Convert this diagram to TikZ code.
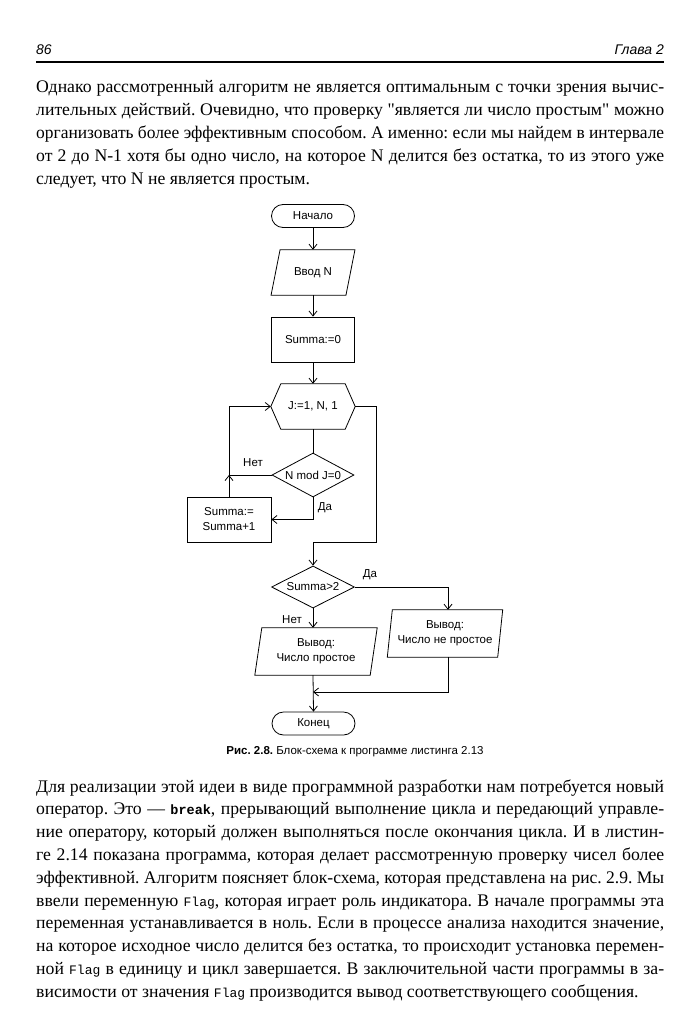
\documentclass[tikz,border=0pt]{standalone}
\usepackage{fontspec}
\setmainfont{Liberation Serif}[Ligatures=TeXOff]
\setsansfont{Liberation Sans}
\setmonofont{Liberation Mono}
\usepackage{graphicx}
\usetikzlibrary{arrows.meta,shapes.geometric,calc}
\frenchspacing

\newcommand\jline[1]{\setbox0\hbox{#1}\ifdim\wd0>628pt\resizebox{628pt}{\height}{\copy0}\else\makebox[628pt][s]{#1}\fi}
\newcommand\drawpara[2]{\draw[shp] ([xshift=#2]#1.north west) -- ([xshift=#2]#1.north east) -- ([xshift=-#2]#1.south east) -- ([xshift=-#2]#1.south west) -- cycle;}
\newcommand\kw[1]{{\fontsize{13.5}{14}\selectfont\ttfamily\bfseries #1}}
\newcommand\cw[1]{{\fontsize{13}{14}\selectfont\ttfamily #1}}

\tikzset{
  shp/.style={line width=0.8pt},
  conn/.style={line width=0.8pt},
  flow/.style={line width=0.8pt, -{Straight Barb[length=5pt,width=8pt]}},
  ftext/.style={font=\fontsize{11.5}{15}\selectfont\sffamily, align=center, inner sep=0pt},
  term/.style={ftext, draw, line width=0.8pt, rounded corners=11.5pt, minimum height=23pt},
  dec/.style={ftext, draw, diamond, line width=0.8pt, aspect=1.9},
  lbl/.style={font=\fontsize{11.5}{14}\selectfont\sffamily, inner sep=0pt},
  hdr/.style={font=\fontsize{14}{15}\selectfont\sffamily\itshape, inner sep=0pt},
  capt/.style={font=\fontsize{11.5}{14}\selectfont\sffamily, inner sep=0pt},
  body/.style={font=\fontsize{17.7}{23}\selectfont\frenchspacing, inner sep=0pt, anchor=base west}
}

\begin{document}
\begin{tikzpicture}[x=1pt,y=-1pt]
\useasboundingbox (0,0) rectangle (700,1024);
\fill[white] (0,0) rectangle (700,1024);

% header
\node[hdr, anchor=base west] (pg) at (36,55) {86};
\node[hdr, anchor=base east] (ch) at (664,55) {Глава 2};
\coordinate (rl) at (36,62);
\coordinate (rr) at (664,62);
\draw[line width=1.3pt] (rl) -- (rr);

% paragraph 1
\node[body] (a1) at (36,93)  {\jline{Однако рассмотренный алгоритм не является оптимальным с точки зрения вычис-}};
\node[body] (a2) at (36,116) {\jline{лительных действий. Очевидно, что проверку "является ли число простым" можно}};
\node[body] (a3) at (36,139) {\jline{организовать более эффективным способом. А именно: если мы найдем в интервале}};
\node[body] (a4) at (36,162) {\jline{от 2 до N-1 хотя бы одно число, на которое N делится без остатка, то из этого уже}};
\node[body] (a5) at (36,185) {следует, что N не является простым.};

% flowchart nodes
\node[term, minimum width=83pt] (start) at (313,216) {Начало};
\node[ftext, minimum width=74.5pt, minimum height=45pt] (in) at (313,272.5) {Ввод N};
\node[ftext, draw, shp, minimum width=83pt, minimum height=45pt] (init) at (313,339.5) {Summa:=0};
\node[ftext, minimum width=64pt, minimum height=45pt] (loop) at (313,406.5) {J:=1, N, 1};
\coordinate (loopL) at ([xshift=-10pt]loop.west);
\coordinate (loopR) at ([xshift=10pt]loop.east);
\node[dec, minimum width=82pt, minimum height=44pt] (d1) at (313,475) {N mod J=0};
\node[ftext, draw, shp, minimum width=84pt, minimum height=45pt] (sum) at (229,519.5) {Summa:=\\Summa+1};
\node[dec, minimum width=83pt, minimum height=42pt] (d2) at (313,587) {Summa>2};
\node[ftext, minimum width=110pt, minimum height=47pt] (yes) at (445,633.5) {Вывод:\\Число не простое};
\node[ftext, minimum width=115pt, minimum height=47pt] (no) at (316,651.5) {Вывод:\\Число простое};
\node[term, minimum width=83pt] (end) at (313.5,723.5) {Конец};

% shapes drawn around invisible nodes
\drawpara{in}{4.5pt}
\drawpara{yes}{2.5pt}
\drawpara{no}{3.5pt}
\draw[shp] (loop.north west) -- (loop.north east) -- (loopR) -- (loop.south east) -- (loop.south west) -- (loopL) -- cycle;

% connectors
\draw[flow] (start.south) -- (start.south |- in.north);
\draw[flow] (in.south) -- (in.south |- init.north);
\draw[flow] (init.south) -- (loop.north);
\draw[conn] (loop.south) -- (d1.north);
\draw[conn] (d1.west) -- (d1.west -| sum.north) coordinate (j1);
\draw[flow] (sum.north) -- (j1);
\draw[flow] (j1) -- (j1 |- loopL) -- (loopL);
\draw[flow] (d1.south) -- (d1.south |- sum.east) -- (sum.east);
\coordinate (rb) at (376,542);
\draw[flow] (loopR) -- (loopR -| rb) -- (rb) -- (rb -| d2.north) -- (d2.north);
\coordinate (yx) at ([xshift=3pt]yes.north);
\draw[flow] (d2.east) -- (d2.east -| yx) -- (yx);
\coordinate (mj) at (313,692);
\draw[flow] (yx |- yes.south) -- (yx |- mj) -- (mj);
\draw[flow] (d2.south) -- (d2.south |- no.north);
\draw[flow] (d2.south |- no.south) -- (end.north);

% labels
\node[lbl] (l1) at (253,463) {Нет};
\node[lbl] (l2) at (325,508) {Да};
\node[lbl] (l3) at (370,575) {Да};
\node[lbl] (l4) at (292,620) {Нет};

% caption
\node[capt] (cap) at (355,752) {\textbf{Рис. 2.8.} Блок-схема к программе листинга 2.13};

% paragraph 2
\node[body] (b1)  at (36,792)   {\jline{Для реализации этой идеи в виде программной разработки нам потребуется новый}};
\node[body] (b2)  at (36,814.8) {\jline{оператор. Это — \kw{break}, прерывающий выполнение цикла и передающий управле-}};
\node[body] (b3)  at (36,837.6) {\jline{ние оператору, который должен выполняться после окончания цикла. И в листин-}};
\node[body] (b4)  at (36,860.4) {\jline{ге 2.14 показана программа, которая делает рассмотренную проверку чисел более}};
\node[body] (b5)  at (36,883.2) {\jline{эффективной. Алгоритм поясняет блок-схема, которая представлена на рис. 2.9. Мы}};
\node[body] (b6)  at (36,906)   {\jline{ввели переменную \cw{Flag}, которая играет роль индикатора. В начале программы эта}};
\node[body] (b7)  at (36,928.8) {\jline{переменная устанавливается в ноль. Если в процессе анализа находится значение,}};
\node[body] (b8)  at (36,951.6) {\jline{на которое исходное число делится без остатка, то происходит установка перемен-}};
\node[body] (b9)  at (36,974.4) {\jline{ной \cw{Flag} в единицу и цикл завершается. В заключительной части программы в за-}};
\node[body] (b10) at (36,997.2) {висимости от значения \cw{Flag} производится вывод соответствующего сообщения.};
\end{tikzpicture}
\end{document}
